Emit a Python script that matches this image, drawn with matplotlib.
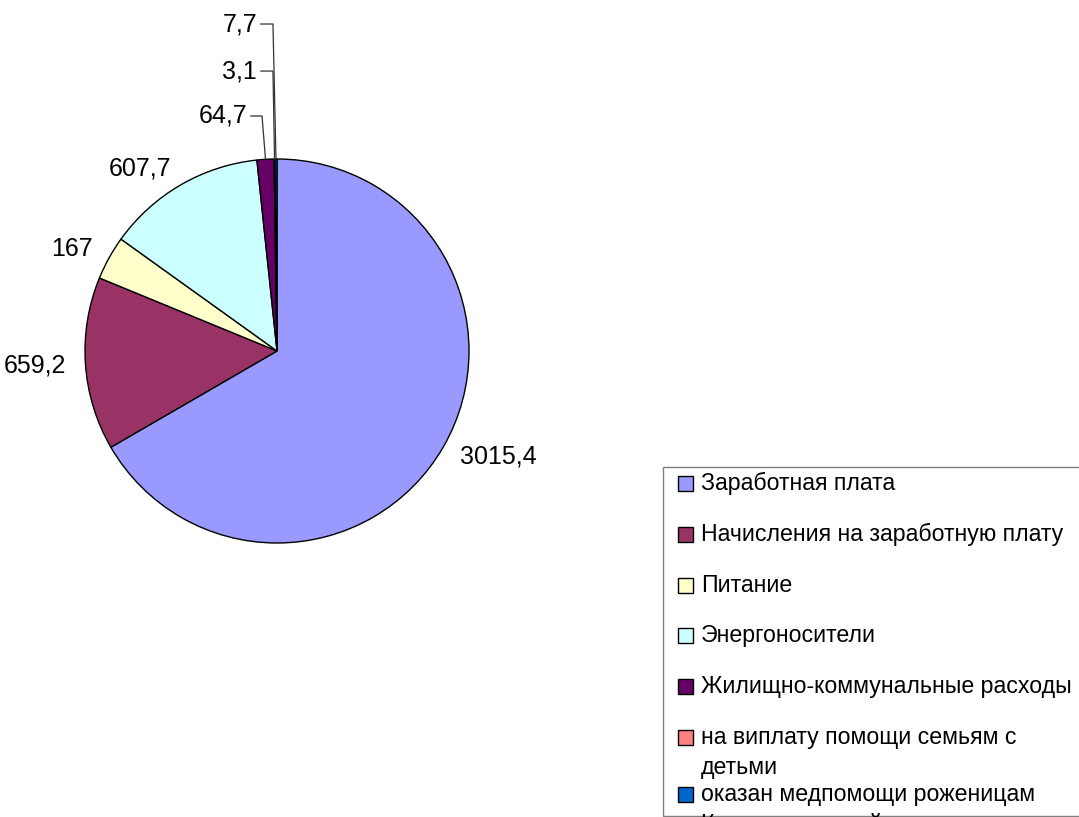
import matplotlib
matplotlib.use("Agg")
import matplotlib.pyplot as plt
from matplotlib.patches import Rectangle
import numpy as np

plt.rcParams['font.family'] = ['Liberation Sans', 'DejaVu Sans']

categories = ["Заработная плата",
              "Начисления на заработную плату",
              "Питание",
              "Энергоносители",
              "Жилищно-коммунальные расходы",
              "на виплату помощи семьям с\nдетьми",
              "оказан медпомощи роженицам\nКременского района"]
values = [3015.4, 659.2, 167, 607.7, 64.7, 3.1, 7.7]
value_labels = ["3015,4", "659,2", "167", "607,7", "64,7", "3,1", "7,7"]
colors = ["#9999FF", "#993366", "#FFFFCC", "#CCFFFF", "#660066", "#FF8080", "#0066CC"]

W, H = 1079, 817
R = 192.0          # pie radius in pixels
CX, CY = 277, 351  # pie centre in pixels (from top-left)

fig = plt.figure(figsize=(W/100, H/100), dpi=100)
ax = fig.add_axes([0, 0, 1, 1])
wedges, _ = ax.pie(values, colors=colors, startangle=90, counterclock=False,
                   wedgeprops=dict(edgecolor='black', linewidth=1))
ax.set_xlim(-CX/R, (W-CX)/R)
ax.set_ylim(-(H-CY)/R, CY/R)
ax.set_aspect('equal')
ax.axis('off')

# mid angles of the slices (radians, counter-clockwise from +x)
frac = np.array(values) / np.sum(values)
cum = np.cumsum(frac) - frac/2
mid = np.radians(90 - cum*360)

# big slices: label just outside the edge
for i in range(4):
    x, y = 1.1*np.cos(mid[i]), 1.1*np.sin(mid[i])
    ha = 'left' if x > 0 else 'right'
    ax.text(x, y, value_labels[i], ha=ha, va='center', fontsize=18)

# thin slices: labels stacked above with leader lines
# (label right edge x, label y, knee x) in radius units
small = {4: (-0.156, 1.224, -0.078),
         5: (-0.104, 1.458, -0.021),
         6: (-0.104, 1.703, -0.021)}
for i, (tx, ty, kx) in small.items():
    ax.text(tx, ty, value_labels[i], ha='right', va='center', fontsize=18)
    ex, ey = np.cos(mid[i]), np.sin(mid[i])
    ax.plot([tx+0.02, kx, ex], [ty, ty, ey], color='#333333', lw=0.9)

# legend, drawn in pixel coordinates (box runs past the right edge)
lax = fig.add_axes([0, 0, 1, 1])
lax.set_xlim(0, W)
lax.set_ylim(H, 0)
lax.axis('off')
frame = Rectangle((663, 467), 440, 816-467, facecolor='white',
                  edgecolor='#7f7f7f', lw=1)
lax.add_patch(frame)

y = 483.5
for c, lab in zip(colors, categories):
    lax.add_patch(Rectangle((678, y-7.5), 15, 15, facecolor=c,
                            edgecolor='black', lw=1))
    lines = lab.split("\n")
    for j, line in enumerate(lines):
        t = lax.text(701, y + 30.5*j, line, ha='left', va='center',
                     fontsize=16.7)
        t.set_clip_path(frame)
    y += 50.8 + 6*(len(lines)-1)

fig.savefig("out.png", dpi=100)
